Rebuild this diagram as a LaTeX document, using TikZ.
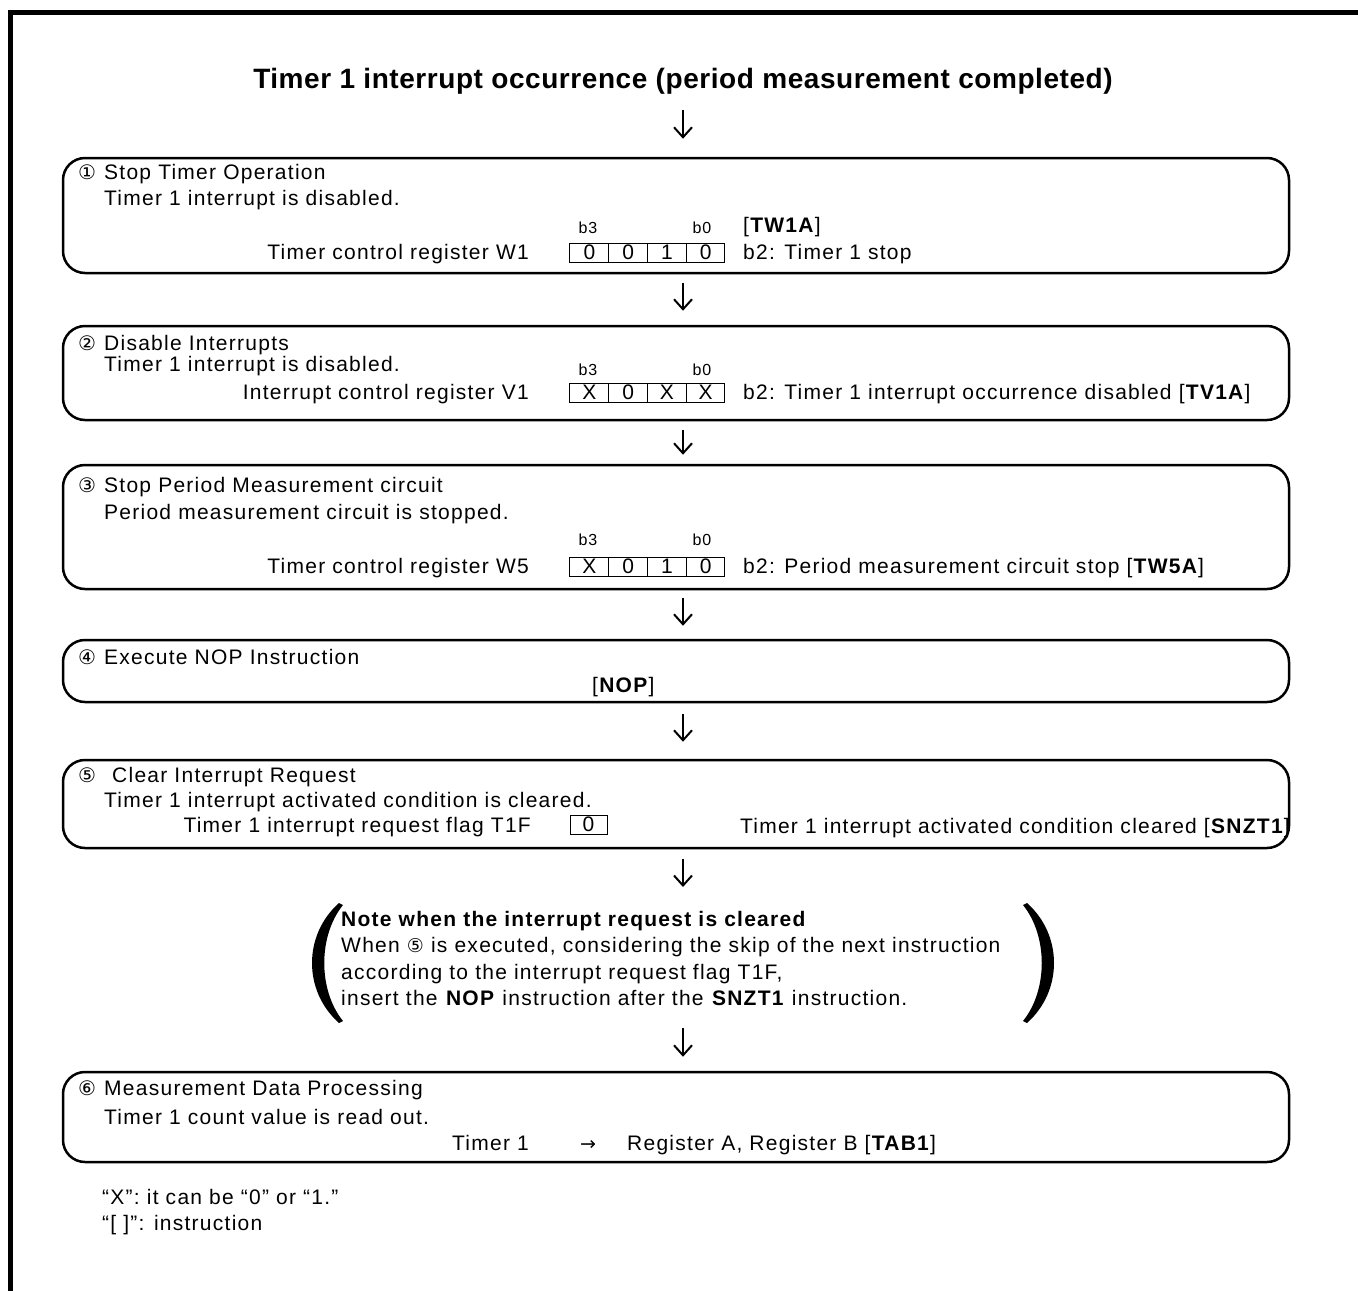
\documentclass[tikz,border=0pt]{standalone}
\usepackage{fontspec}
\setmainfont{Liberation Sans}[LetterSpace=6]
\newfontfamily\titlefont{Liberation Sans}[LetterSpace=2]
\newfontfamily\symfont{DejaVu Sans}
\usetikzlibrary{arrows.meta}

\newcommand{\cnum}[1]{\makebox[26pt][l]{\symfont\fontsize{20}{20}\selectfont #1}}

\tikzset{
  stepbox/.style={draw, line width=2.5pt, rounded corners=22pt, minimum width=1226pt, inner sep=0pt},
  txt/.style={anchor=base west, inner sep=0pt, font=\fontsize{21}{24}\selectfont},
  rtxt/.style={anchor=base east, inner sep=0pt, font=\fontsize{21}{24}\selectfont},
  bit/.style={anchor=base, inner sep=0pt, font=\fontsize{16}{18}\selectfont},
  cell/.style={draw, line width=1pt, minimum width=38.75pt, minimum height=19pt, inner sep=0pt, font=\fontsize{21}{24}\selectfont},
  flow/.style={-{Straight Barb[length=10pt,width=18pt]}, line width=2pt},
}

\begin{document}
\begin{tikzpicture}[x=1pt, y=-1pt]
  \useasboundingbox (0,0) rectangle (1358,1291);
  % frame
  \draw[line width=5pt] (1358,12.5) -- (10.5,12.5) -- (10.5,1291);
  % title
  \node[anchor=base, inner sep=0pt, font=\titlefont\bfseries\fontsize{28}{30}\selectfont] (title) at (683,88)
    {Timer 1 interrupt occurrence (period measurement completed)};

  % step 1
  \node[stepbox, minimum height=115pt] (stop) at (676,215.5) {};
  \node[txt] (stop-t) at (78,179) {\cnum{①}Stop Timer Operation};
  \node[txt] (stop-d) at (104,205) {Timer 1 interrupt is disabled.};
  \node[rtxt] (w1) at (529,259) {Timer control register W1};
  \foreach \v [count=\i] in {0,0,1,0}
    \node[cell] (w1-\i) at ({550.6+38.75*\i},252.5) {\v};
  \node[bit] (w1-b3) at (588,233) {b3};
  \node[bit] (w1-b0) at (702,233) {b0};
  \node[txt] (w1-op) at (743,232) {[\textbf{TW1A}]};
  \node[txt] (w1-b2) at (743,259) {b2: Timer 1 stop};

  % step 2
  \node[stepbox, minimum height=94pt] (disable) at (676,373) {};
  \node[txt] (disable-t) at (78,350) {\cnum{②}Disable Interrupts};
  \node[txt] (disable-d) at (104,371) {Timer 1 interrupt is disabled.};
  \node[rtxt] (v1) at (529,399) {Interrupt control register V1};
  \foreach \v [count=\i] in {X,0,X,X}
    \node[cell] (v1-\i) at ({550.6+38.75*\i},392.5) {\v};
  \node[bit] (v1-b3) at (588,375) {b3};
  \node[bit] (v1-b0) at (702,375) {b0};
  \node[txt] (v1-b2) at (743,399) {b2: Timer 1 interrupt occurrence disabled [\textbf{TV1A}]};

  % step 3
  \node[stepbox, minimum height=124pt] (pmstop) at (676,527) {};
  \node[txt] (pmstop-t) at (78,492) {\cnum{③}Stop Period Measurement circuit};
  \node[txt] (pmstop-d) at (104,519) {Period measurement circuit is stopped.};
  \node[rtxt] (w5) at (529,573) {Timer control register W5};
  \foreach \v [count=\i] in {X,0,1,0}
    \node[cell] (w5-\i) at ({550.6+38.75*\i},566.5) {\v};
  \node[bit] (w5-b3) at (588,545) {b3};
  \node[bit] (w5-b0) at (702,545) {b0};
  \node[txt] (w5-b2) at (743,573) {b2: Period measurement circuit stop [\textbf{TW5A}]};

  % step 4
  \node[stepbox, minimum height=62pt] (nop) at (676,671) {};
  \node[txt] (nop-t) at (78,664) {\cnum{④}Execute NOP Instruction};
  \node[txt] (nop-op) at (592,692) {[\textbf{NOP}]};

  % step 5
  \node[stepbox, minimum height=88pt] (clear) at (676,804) {};
  \node[txt] (clear-t) at (78,782) {\cnum{⑤}\hspace{8pt}Clear Interrupt Request};
  \node[txt] (clear-d) at (104,807) {Timer 1 interrupt activated condition is cleared.};
  \node[rtxt] (t1f) at (531,832) {Timer 1 interrupt request flag T1F};
  \node[cell, minimum width=37pt] (t1f-1) at (588.5,824.5) {0};
  \node[rtxt] (t1f-op) at (1290,833) {Timer 1 interrupt activated condition cleared [\textbf{SNZT1}]};

  % note
  \coordinate (note-top) at (683,903);
  \coordinate (note-bot) at (683,1023);
  \fill (339,903) .. controls (303,935) and (303,991) .. (339,1023) -- (343,1021) .. controls (318,990) and (318,936) .. (343,905) -- cycle;
  \fill (1027,903) .. controls (1063,935) and (1063,991) .. (1027,1023) -- (1023,1021) .. controls (1048,990) and (1048,936) .. (1023,905) -- cycle;
  \node[txt] (note) at (341,926) {\textbf{Note when the interrupt request is cleared}};
  \node[txt] (note-2) at (341,952) {When {\symfont\fontsize{19}{19}\selectfont ⑤} is executed, considering the skip of the next instruction};
  \node[txt] (note-3) at (341,979) {according to the interrupt request flag T1F,};
  \node[txt] (note-4) at (341,1005) {insert the \textbf{NOP} instruction after the \textbf{SNZT1} instruction.};

  % step 6
  \node[stepbox, minimum height=90pt] (read) at (676,1117) {};
  \node[txt] (read-t) at (78,1095) {\cnum{⑥}Measurement Data Processing};
  \node[txt] (read-d) at (104,1124) {Timer 1 count value is read out.};
  \node[txt] (read-src) at (452,1150) {Timer 1};
  \node[anchor=base, inner sep=0pt, font=\symfont\fontsize{19}{19}\selectfont] (read-arr) at (588,1150) {→};
  \node[txt] (read-dst) at (627,1150) {Register A, Register B [\textbf{TAB1}]};

  % legend
  \node[txt] (key-x) at (102,1204) {“X”: it can be “0” or “1.”};
  \node[txt] (key-op) at (102,1230) {“[ ]”: instruction};

  % flow arrows
  \draw[flow, shorten <=16pt, shorten >=18pt] (title.south) -- (title.south |- stop.north);
  \draw[flow, shorten <=9pt, shorten >=14pt] (stop.south -| title) -- (disable.north -| title);
  \draw[flow, shorten <=9pt, shorten >=9pt] (disable.south -| title) -- (pmstop.north -| title);
  \draw[flow, shorten <=8pt, shorten >=13pt] (pmstop.south -| title) -- (nop.north -| title);
  \draw[flow, shorten <=11pt, shorten >=17pt] (nop.south -| title) -- (clear.north -| title);
  \draw[flow, shorten <=10pt, shorten >=16pt] (clear.south -| title) -- (note-top);
  \draw[flow, shorten <=5pt, shorten >=14pt] (note-bot) -- (read.north -| title);
\end{tikzpicture}
\end{document}
